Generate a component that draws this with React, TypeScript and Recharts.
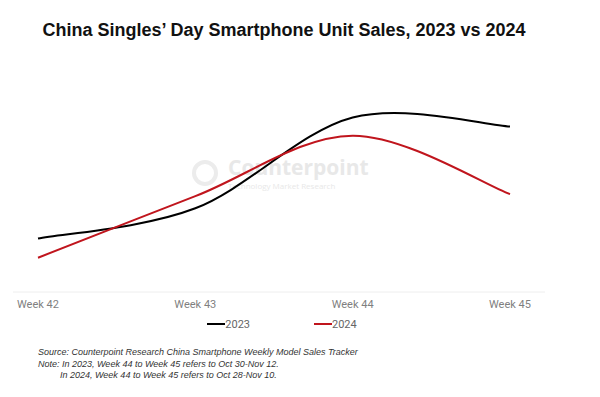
import React from 'react';
import { LineChart, Line, XAxis, YAxis, Legend } from 'recharts';

const weeks = ['Week 42', 'Week 43', 'Week 44', 'Week 45'];
const sales2023 = [53, 83, 173, 164];
const sales2024 = [34, 95, 155, 97];
const seriesNames = ['2023', '2024'];
const seriesColors = ['#000000', '#c0151d'];

const data = weeks.map((w, i) => ({ week: w, s2023: sales2023[i], s2024: sales2024[i] }));

// Excel-like smoothed line (uniform Catmull-Rom as cubic Bezier)
const smoothCurve: any = (context: any) => {
  let pts: [number, number][] = [];
  return {
    areaStart() {},
    areaEnd() {},
    lineStart() {
      pts = [];
    },
    lineEnd() {
      const n = pts.length;
      if (!n) return;
      context.moveTo(pts[0][0], pts[0][1]);
      for (let i = 0; i < n - 1; i++) {
        const p0 = pts[Math.max(i - 1, 0)];
        const p1 = pts[i];
        const p2 = pts[i + 1];
        const p3 = pts[Math.min(i + 2, n - 1)];
        context.bezierCurveTo(
          p1[0] + (p2[0] - p0[0]) / 6,
          p1[1] + (p2[1] - p0[1]) / 6,
          p2[0] - (p3[0] - p1[0]) / 6,
          p2[1] - (p3[1] - p1[1]) / 6,
          p2[0],
          p2[1]
        );
      }
    },
    point(x: number, y: number) {
      pts.push([+x, +y]);
    },
  };
};

const renderLegend = () => (
  <div style={{ display: 'flex', justifyContent: 'center', gap: 64, paddingLeft: 6, height: 16, fontFamily: 'Roboto, sans-serif', fontSize: 11, color: '#666' }}>
    {seriesNames.map((n, i) => (
      <div key={n} style={{ display: 'flex', alignItems: 'center' }}>
        <span style={{ display: 'inline-block', width: 18, height: 2, background: seriesColors[i] }} />
        <span>{n}</span>
      </div>
    ))}
  </div>
);

export default function App() {
  return (
    <div style={{ position: 'absolute', left: 0, top: 0, width: 600, height: 397, background: '#fff', overflow: 'hidden' }}>
      <div style={{ position: 'absolute', left: 0, top: 20, width: 568, textAlign: 'center', fontFamily: '"Liberation Sans", Arial, sans-serif', fontWeight: 'bold', fontSize: 18, color: '#111' }}>
        China Singles’ Day Smartphone Unit Sales, 2023 vs 2024
      </div>
      {/* watermark */}
      <div style={{ position: 'absolute', left: 192, top: 160, width: 26, height: 26, borderRadius: 13, border: '4px solid #ececec', boxSizing: 'border-box' }} />
      <div style={{ position: 'absolute', left: 228, top: 157, lineHeight: '20px', fontFamily: '"Open Sans", sans-serif', fontWeight: 'bold', fontSize: 21, color: '#e8e8e8' }}>Counterpoint</div>
      <div style={{ position: 'absolute', left: 228, top: 181, lineHeight: '9px', fontFamily: '"Open Sans", sans-serif', fontSize: 8, color: '#e8e8e8' }}>Technology Market Research</div>
      <div style={{ position: 'absolute', left: 0, top: 0 }}>
        <LineChart width={600} height={340} data={data} margin={{ top: 60, right: 55, bottom: 2, left: 13 }}>
          <XAxis
            dataKey="week"
            axisLine={{ stroke: '#eeeeee', strokeWidth: 1 }}
            tickLine={false}
            padding={{ left: 25, right: 35 }}
            tick={{ fill: '#7f7f7f', fontSize: 11, fontFamily: 'Roboto, sans-serif' }}
            tickMargin={2}
            height={30}
            interval={0}
          />
          <YAxis hide domain={[0, 230]} type="number" />
          <Legend verticalAlign="bottom" content={renderLegend} wrapperStyle={{ bottom: 8 }} />
          <Line dataKey="s2023" name="2023" type={smoothCurve} stroke={seriesColors[0]} strokeWidth={2} dot={false} isAnimationActive={false} />
          <Line dataKey="s2024" name="2024" type={smoothCurve} stroke={seriesColors[1]} strokeWidth={2} dot={false} isAnimationActive={false} />
        </LineChart>
      </div>
      <div style={{ position: 'absolute', left: 38, top: 347, fontFamily: '"Liberation Sans", Arial, sans-serif', fontStyle: 'italic', fontSize: 9, lineHeight: '11.5px', color: '#333' }}>
        <div>Source: Counterpoint Research China Smartphone Weekly Model Sales Tracker</div>
        <div>Note: In 2023, Week 44 to Week 45 refers to Oct 30-Nov 12.</div>
        <div style={{ paddingLeft: 22 }}>In 2024, Week 44 to Week 45 refers to Oct 28-Nov 10.</div>
      </div>
    </div>
  );
}
